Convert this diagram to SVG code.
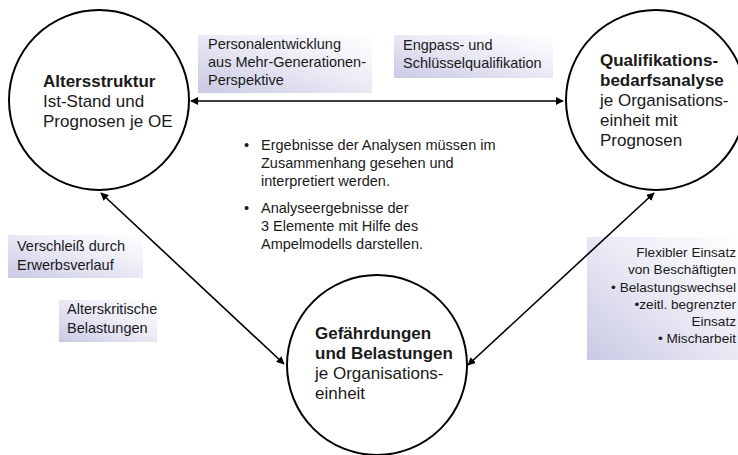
<svg xmlns="http://www.w3.org/2000/svg" width="738" height="455" viewBox="0 0 738 455">
<defs>
<linearGradient id="lav" x1="0" y1="1" x2="1" y2="0">
<stop offset="0" stop-color="#c9c9e4"/>
<stop offset="0.55" stop-color="#ebebf6"/>
<stop offset="1" stop-color="#ffffff"/>
</linearGradient>
<marker id="ah" viewBox="0 0 10 10" refX="9" refY="5" markerWidth="5" markerHeight="5" orient="auto-start-reverse" markerUnits="strokeWidth">
<path d="M0,0 L10,5 L0,10 Z" fill="#000"/>
</marker>
<style>
text{font-family:"Liberation Sans",Arial,sans-serif;fill:#1a1a1a}
.node circle{fill:#fff;stroke:#000;stroke-width:2}
.t{font-size:17px}
.b{font-weight:bold}
.s{font-size:14.5px}
.r{font-size:13.6px;text-anchor:end}
.conn line{stroke:#000;stroke-width:1.6;marker-start:url(#ah);marker-end:url(#ah)}
.box{fill:url(#lav)}
</style>
</defs>
<rect width="738" height="455" fill="#fff"/>
<g id="labels">
<rect class="box" x="198" y="35" width="174" height="58"/>
<text class="s"><tspan x="208" y="49">Personalentwicklung</tspan><tspan x="208" y="67">aus Mehr-Generationen-</tspan><tspan x="208" y="85">Perspektive</tspan></text>
<rect class="box" x="394" y="35" width="159" height="43"/>
<text class="s"><tspan x="403" y="50">Engpass- und</tspan><tspan x="403" y="68">Schlüsselqualifikation</tspan></text>
<rect class="box" x="8" y="235" width="135" height="43"/>
<text class="s"><tspan x="17" y="251">Verschleiß durch</tspan><tspan x="17" y="270">Erwerbsverlauf</tspan></text>
<rect class="box" x="59" y="300" width="98" height="42"/>
<text class="s"><tspan x="67" y="314">Alterskritische</tspan><tspan x="67" y="333">Belastungen</tspan></text>
<rect class="box" x="587" y="237" width="151" height="123"/>
<text class="r"><tspan x="736" y="257">Flexibler Einsatz</tspan><tspan x="736" y="274">von Beschäftigten</tspan><tspan x="736" y="292">• Belastungswechsel</tspan><tspan x="736" y="309">•zeitl. begrenzter</tspan><tspan x="736" y="326">Einsatz</tspan><tspan x="736" y="343">• Mischarbeit</tspan></text>
</g>
<g id="center-text" class="s">
<text x="244" y="150">•</text>
<text><tspan x="261" y="150">Ergebnisse der Analysen müssen im</tspan><tspan x="261" y="168">Zusammenhang gesehen und</tspan><tspan x="261" y="186">interpretiert werden.</tspan></text>
<text x="244" y="213">•</text>
<text><tspan x="261" y="213">Analyseergebnisse der</tspan><tspan x="261" y="231">3 Elemente mit Hilfe des</tspan><tspan x="261" y="249">Ampelmodells darstellen.</tspan></text>
</g>
<g id="connectors" class="conn">
<line x1="191" y1="101" x2="563" y2="101"/>
<line x1="101" y1="193" x2="284" y2="364"/>
<line x1="654" y1="193" x2="468" y2="365"/>
</g>
<g id="altersstruktur" class="node">
<circle cx="99" cy="100" r="90"/>
<text class="t"><tspan class="b" x="43" y="87">Altersstruktur</tspan><tspan x="43" y="107">Ist-Stand und</tspan><tspan x="43" y="127">Prognosen je OE</tspan></text>
</g>
<g id="qualifikation" class="node">
<circle cx="656" cy="100" r="90"/>
<text class="t"><tspan class="b" x="600" y="66">Qualifikations-</tspan><tspan class="b" x="600" y="86">bedarfsanalyse</tspan><tspan x="600" y="106">je Organisations-</tspan><tspan x="600" y="126">einheit mit</tspan><tspan x="600" y="146">Prognosen</tspan></text>
</g>
<g id="gefaehrdungen" class="node">
<circle cx="377" cy="365" r="90"/>
<text class="t"><tspan class="b" x="315" y="339">Gefährdungen</tspan><tspan class="b" x="315" y="359">und Belastungen</tspan><tspan x="315" y="379">je Organisations-</tspan><tspan x="315" y="399">einheit</tspan></text>
</g>
</svg>
